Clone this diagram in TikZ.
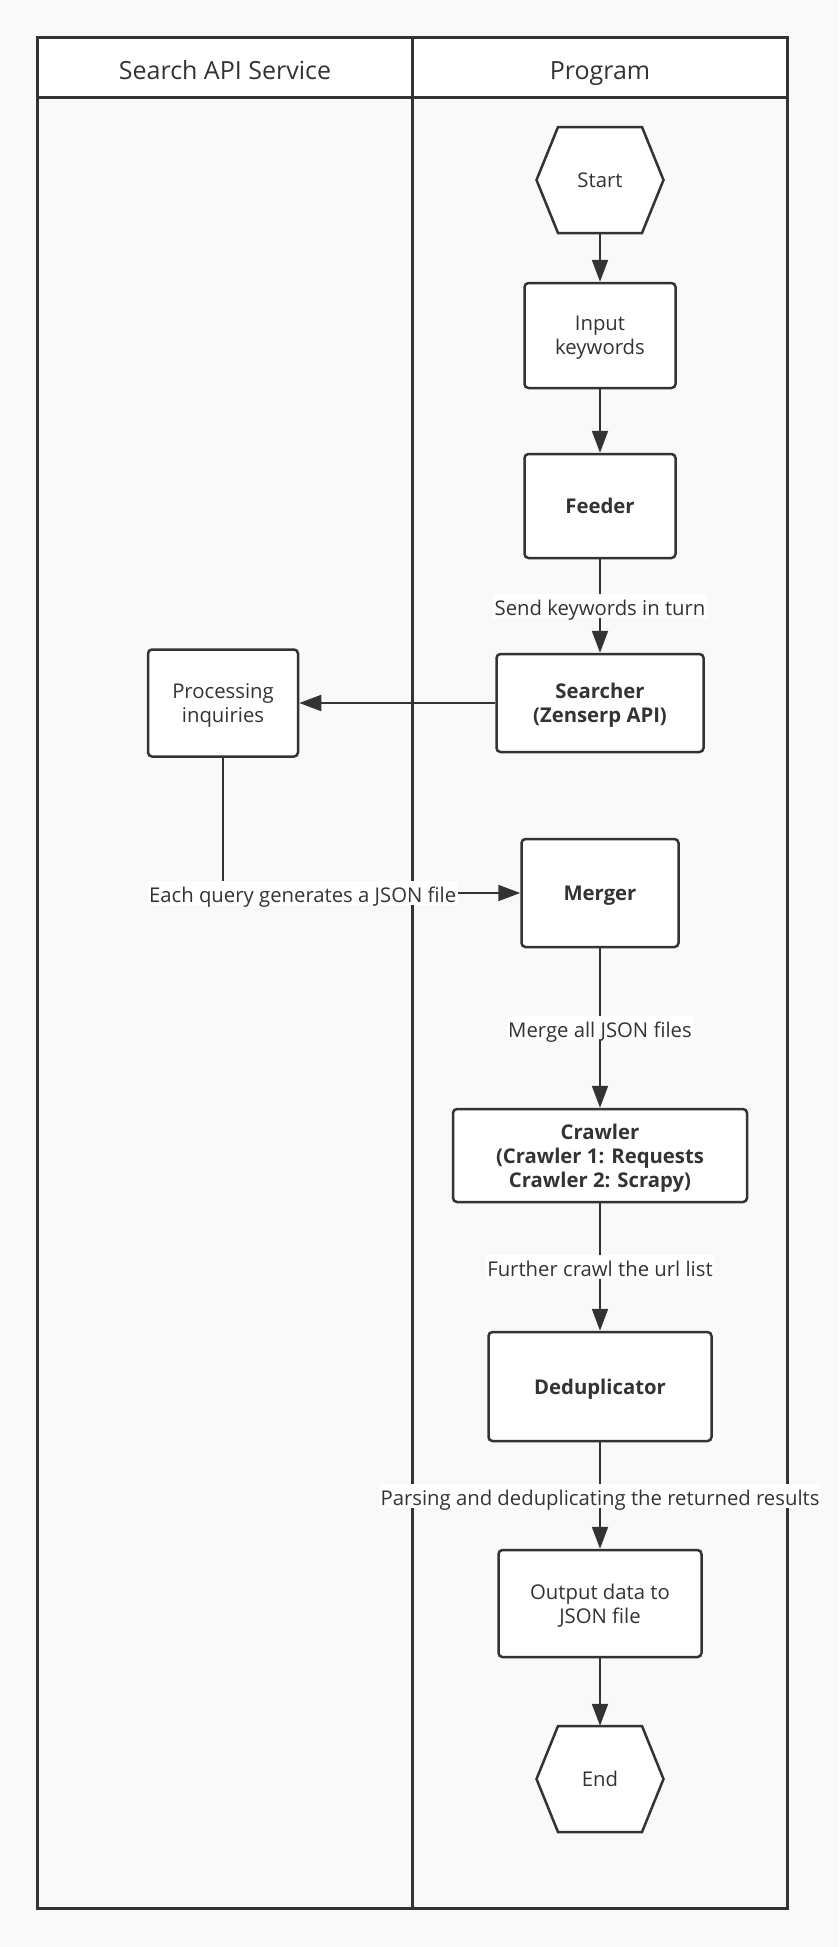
\documentclass[tikz,border=0pt]{standalone}
\usepackage{fontspec}
\setmainfont{Open Sans}
\usetikzlibrary{arrows.meta}
\definecolor{bgc}{HTML}{F9F9F9}
\definecolor{ink}{HTML}{333333}
\begin{document}
\begin{tikzpicture}[x=1pt,y=-1pt,
  lane/.style={draw=ink, line width=3pt},
  headtxt/.style={text=ink, font=\fontsize{25}{29}\selectfont, inner sep=0pt, anchor=base},
  box/.style={draw=ink, line width=2.5pt, fill=white, rounded corners=4pt, align=center, text=ink, font=\fontsize{20.3}{24}\selectfont, inner sep=0pt, text depth=-12pt},
  boldbox/.style={box, font=\fontsize{20.3}{24}\selectfont\bfseries},
  hexshape/.style={draw=ink, line width=2.5pt, fill=white, line join=miter},
  hexnode/.style={text=ink, font=\fontsize{20.3}{24}\selectfont, inner sep=0pt, minimum width=127pt, minimum height=106pt, text depth=-12pt},
  arr/.style={draw=ink, line width=2pt, -{Triangle[length=22pt,width=16pt]}},
  lbl/.style={fill=white, text=ink, font=\fontsize{20.3}{24}\selectfont, inner xsep=1.5pt, inner ysep=0.5pt, text height=21pt, text depth=2pt}
]
% background / page
\fill[bgc] (0,0) rectangle (839,1947);
\useasboundingbox (0,0) rectangle (839,1947);

% swimlanes
\fill[white] (37,37) rectangle (787,97);
\draw[lane] (37,37) rectangle (787,1908);
\draw[lane] (37,97) -- (787,97);
\draw[lane] (412,37) -- (412,1908);
\node[headtxt] (h1) at (225,79) {Search API Service};
\node[headtxt] (h2) at (600,79) {Program};

% start hexagon
\draw[hexshape] (558,127) -- (642,127) -- (663.5,180) -- (642,233) -- (558,233) -- (536.5,180) -- cycle;
\node[hexnode] (start) at (600,180) {Start};

\node[box, minimum width=151pt, minimum height=105pt] (input) at (600,335.5) {Input\\keywords};
\node[boldbox, minimum width=151pt, minimum height=104pt] (feeder) at (600,506) {Feeder};
\node[boldbox, minimum width=207pt, minimum height=98pt] (searcher) at (600,703) {Searcher\\(Zenserp API)};
\node[box, minimum width=150pt, minimum height=107pt] (proc) at (223,703) {Processing\\inquiries};
\node[boldbox, minimum width=157pt, minimum height=108pt] (merger) at (600,893) {Merger};
\node[boldbox, minimum width=294pt, minimum height=93pt] (crawler) at (600,1155.5) {Crawler\\(Crawler 1: Requests\\Crawler 2: Scrapy)};
\node[boldbox, minimum width=223pt, minimum height=109pt] (dedup) at (600,1386.5) {Deduplicator};
\node[box, minimum width=203pt, minimum height=107pt] (output) at (600,1603.5) {Output data to\\JSON file};

% end hexagon
\draw[hexshape] (558,1726) -- (642,1726) -- (663.5,1779) -- (642,1832) -- (558,1832) -- (536.5,1779) -- cycle;
\node[hexnode] (end) at (600,1779) {End};

% connectors
\draw[arr] (start) -- (input);
\draw[arr] (input) -- (feeder);
\draw[arr] (feeder) -- node[lbl] (l1) {Send keywords in turn} (searcher);
\draw[arr] (searcher) -- (proc);
\draw[arr] (proc) |- node[lbl, pos=0.634] (l2) {Each query generates a JSON file} (merger);
\draw[arr] (merger) -- node[lbl] (l3) {Merge all JSON files} (crawler);
\draw[arr] (crawler) -- node[lbl] (l4) {Further crawl the url list} (dedup);
\draw[arr] (dedup) -- node[lbl] (l5) {Parsing and deduplicating the returned results} (output);
\draw[arr] (output) -- (end);
\end{tikzpicture}
\end{document}
